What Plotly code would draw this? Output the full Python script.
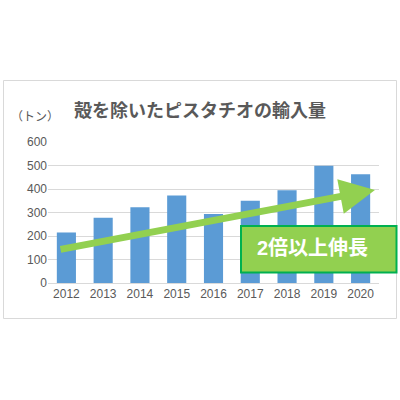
import plotly.graph_objects as go

# Data
years = ['2012', '2013', '2014', '2015', '2016', '2017', '2018', '2019', '2020']
imports = [215, 278, 322, 372, 294, 350, 395, 499, 463]
y_ticks = [0, 100, 200, 300, 400, 500, 600]

# Trend arrow (category index, tons)
arrow_start = (-0.2, 142)
arrow_end = (8.39, 396)

W, H = 400, 400
L, R, T, B = 48, 21, 142, 117
pw, ph = W - L - R, H - T - B


def px(x):
    return (x - L) / pw


def py(y):
    return (H - B - y) / ph


fig = go.Figure(go.Bar(
    x=years,
    y=imports,
    marker=dict(color='#5B9BD5', line=dict(width=0)),
))

fig.update_layout(
    width=W,
    height=H,
    margin=dict(l=L, r=R, t=T, b=B),
    plot_bgcolor='white',
    paper_bgcolor='white',
    showlegend=False,
    bargap=0.48,
    font=dict(family='Noto Sans CJK JP', color='#595959', size=12),
    xaxis=dict(
        type='category',
        range=[-0.5, len(years) - 0.5],
        showgrid=False,
        showline=True,
        linecolor='#d9d9d9',
        linewidth=1,
        ticks='',
        tickfont=dict(family='Liberation Sans, Arial', size=12, color='#595959'),
    ),
    yaxis=dict(
        range=[0, 600],
        tickvals=y_ticks,
        showgrid=True,
        gridcolor='#d9d9d9',
        gridwidth=1,
        zeroline=False,
        ticks='',
        tickfont=dict(family='Liberation Sans, Arial', size=12, color='#595959'),
    ),
)

# chart frame
fig.add_shape(type='rect', xref='paper', yref='paper',
              x0=px(3.5), x1=px(396.5), y0=py(80.5), y1=py(318.5),
              line=dict(color='#d9d9d9', width=1), layer='below')

# title and unit
fig.add_annotation(text='<b>殻を除いたピスタチオの輸入量</b>', xref='paper', yref='paper',
                   x=px(200), y=py(109), xanchor='center', yanchor='middle', showarrow=False,
                   font=dict(size=18, color='#595959'))
fig.add_annotation(text='（トン）', xref='paper', yref='paper',
                   x=px(35), y=py(115), xanchor='center', yanchor='middle', showarrow=False,
                   font=dict(size=12, color='#595959'))

# trend arrow
fig.add_annotation(x=arrow_end[0], y=arrow_end[1], ax=arrow_start[0], ay=arrow_start[1],
                   xref='x', yref='y', axref='x', ayref='y', text='',
                   showarrow=True, arrowhead=2, arrowsize=1.0, arrowwidth=7,
                   arrowcolor='#92D050')

# callout box
fig.add_shape(type='rect', xref='paper', yref='paper',
              x0=px(241), x1=px(396.5), y0=py(226), y1=py(272.5),
              fillcolor='#92D050', line=dict(color='#00B050', width=2))
fig.add_annotation(text='<b>2倍以上伸長</b>', xref='paper', yref='paper',
                   x=px(312), y=py(248), xanchor='center', yanchor='middle', showarrow=False,
                   font=dict(size=20, color='white', family='Liberation Sans, Noto Sans CJK JP'))

fig.write_html('out.html', config={'displayModeBar': False},
               post_script="document.body.style.margin='0';")
